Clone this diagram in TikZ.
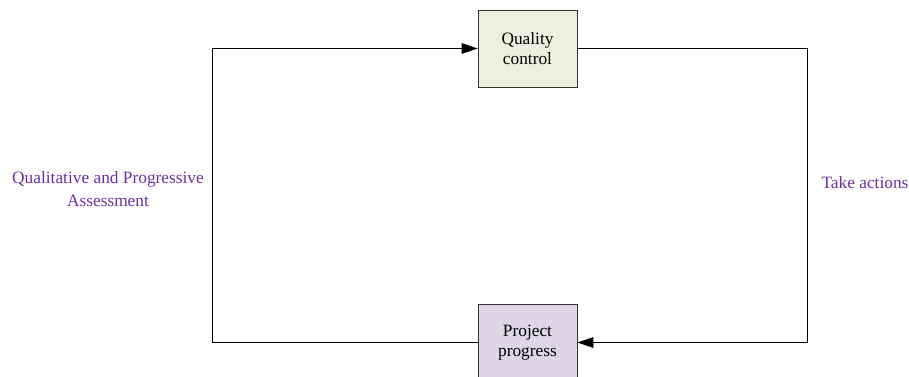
\documentclass[tikz,border=0pt]{standalone}
\usepackage{fontspec}
\setmainfont{Liberation Serif}
\usetikzlibrary{arrows.meta}
\definecolor{boxgreen}{HTML}{EBF1DE}
\definecolor{boxpurple}{HTML}{DDD7E8}
\definecolor{labelpurple}{HTML}{7030A0}
\begin{document}
\begin{tikzpicture}[x=0.75pt,y=-0.75pt,
  procbox/.style={draw=black!80, line width=0.6pt, minimum width=74.25pt, minimum height=57.75pt, inner sep=0pt, align=center, font=\fontsize{13}{15.5}\selectfont},
  conn/.style={draw=black, line width=0.6pt},
  arr/.style={conn, -{Triangle[length=12pt,width=8pt]}},
  lbl/.style={text=labelpurple, align=center, font=\fontsize{13}{17}\selectfont}]
\useasboundingbox (0,0) rectangle (909,376);
\clip (0,0) rectangle (909,376);
\node[procbox, fill=boxgreen] (qc) at (527.5,48.5) {Quality\\control};
\node[procbox, fill=boxpurple] (pp) at (527.5,342.5) {Project\\progress};
\coordinate (tl) at (212,48.5);
\coordinate (bl) at (212,342.5);
\coordinate (tr) at (807,48.5);
\coordinate (br) at (807,342.5);
\draw[arr] (pp.west) -- (bl) -- (tl) -- (qc.west);
\draw[arr] (qc.east) -- (tr) -- (br) -- (pp.east);
\node[lbl] (la) at (108,189) {Qualitative and Progressive\\Assessment};
\node[lbl] (lb) at (865,183) {Take actions};
\end{tikzpicture}
\end{document}
